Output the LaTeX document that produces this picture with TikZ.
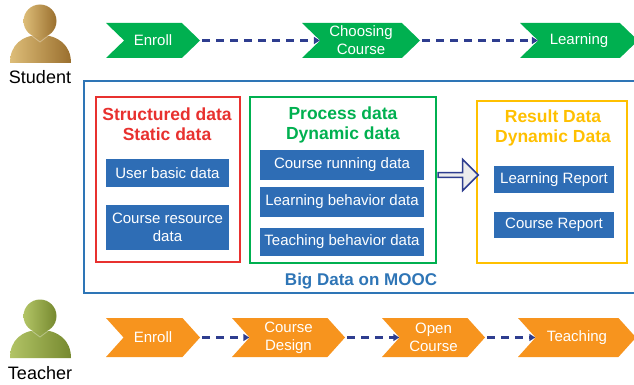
\documentclass[tikz,border=0pt]{standalone}
\usepackage{fontspec}
\setmainfont{Liberation Sans}
\usetikzlibrary{shapes.symbols,shapes.arrows,arrows.meta}

\definecolor{stugreen}{HTML}{00B050}
\definecolor{teaorange}{HTML}{F7941E}
\definecolor{itemblue}{HTML}{2E6DB5}
\definecolor{frameblue}{HTML}{2E75B6}
\definecolor{dashnavy}{HTML}{2E3D8F}
\definecolor{redline}{HTML}{E8312F}
\definecolor{goldline}{HTML}{FFC000}
\definecolor{goldlight}{HTML}{DDBD78}
\definecolor{golddark}{HTML}{9A6F2E}
\definecolor{olivelight}{HTML}{B2C466}
\definecolor{olivedark}{HTML}{76892F}

\tikzset{
  stagearrow/.style={signal, signal from=west, signal to=east, inner sep=0pt,
    text=white, align=center, font=\fontsize{15}{18}\selectfont},
  stu/.style={stagearrow, fill=stugreen, minimum height=35pt, signal pointer angle=88},
  tea/.style={stagearrow, fill=teaorange, minimum height=39pt, signal pointer angle=96},
  flow/.style={dashnavy, line width=2.4pt, dash pattern=on 8pt off 6pt,
    shorten <=2pt, -{Triangle[length=6pt,width=7pt]}},
  group/.style={draw, line width=2pt, fill=white},
  grouptitle/.style={align=center, font=\bfseries\fontsize{17.5}{20}\selectfont},
  item/.style={fill=itemblue, text=white, align=center, inner sep=0pt,
    font=\fontsize{15}{18}\selectfont},
  role/.style={font=\fontsize{18}{20}\selectfont},
}

% person icon: #1 = top of head, #2 light colour, #3 dark colour
\newcommand{\drawperson}[3]{
  \begin{scope}[shift={(0,#1)}]
    \shade[left color=#2, right color=#3]
      (10,58) .. controls (10,40) and (22,30) .. (40,30)
      .. controls (58,30) and (71,40) .. (71,58) -- cycle;
    \draw[white, opacity=0.35, line width=0.8pt] (32,31) -- (40,37) -- (48,31);
    \shade[left color=#2, right color=#3] (40,16) circle (16.5);
  \end{scope}
}

\begin{document}
\begin{tikzpicture}[x=1pt,y=-1pt]
  \useasboundingbox (0,0) rectangle (634,385);

  % student and teacher
  \drawperson{5}{goldlight}{golddark}
  \node[role] (student) at (40,77) {Student};
  \drawperson{300}{olivelight}{olivedark}
  \node[role] (teacher) at (40,373) {Teacher};

  % student steps
  \node[stu, minimum width=94pt] (s1) at (153,40.5) {Enroll};
  \node[stu, minimum width=118pt] (s2) at (361,40.5) {Choosing\\Course};
  \node[stu, minimum width=118pt] (s3) at (579,40.5) {Learning};
  \draw[flow] (s1.east) to (s2.west);
  \draw[flow] (s2.east) to (s3.west);

  % teacher steps
  \node[tea, minimum width=94pt] (t1) at (153,337.5) {Enroll};
  \node[tea, minimum width=113pt] (t2) at (288.5,337.5) {Course\\Design};
  \node[tea, minimum width=103pt] (t3) at (433.5,337.5) {Open\\Course};
  \node[tea, minimum width=118pt] (t4) at (577,337.5) {Teaching};
  \draw[flow] (t1.east) to (t2.west);
  \draw[flow] (t2.east) to (t3.west);
  \draw[flow] (t3.east) to (t4.west);

  % big data frame, open to the right
  \draw[frameblue, line width=2pt] (640,81) -- (84,81) -- (84,293) -- (640,293);
  \node[grouptitle, text=frameblue, font=\bfseries\fontsize{17}{20}\selectfont]
    (bigdata) at (361,281) {Big Data on MOOC};

  % structured data
  \node[group, draw=redline, minimum width=144pt, minimum height=165pt] (stat) at (168,179.5) {};
  \node[grouptitle, text=redline] (stattitle) at (167,124) {Structured data\\Static data};
  \node[item, minimum width=123pt, minimum height=28pt] (ub) at (167.5,173) {User basic data};
  \node[item, minimum width=123pt, minimum height=45pt] (cr) at (167.5,227.5) {Course resource\\data};

  % process data
  \node[group, draw=stugreen, minimum width=186pt, minimum height=166pt] (proc) at (343,180) {};
  \node[grouptitle, text=stugreen] (proctitle) at (343,124.5) {Process data\\Dynamic data};
  \node[item, minimum width=164pt, minimum height=30pt] (crun) at (342,165) {Course running data};
  \node[item, minimum width=164pt, minimum height=30pt] (lb) at (342,202) {Learning behavior data};
  \node[item, minimum width=164pt, minimum height=28pt] (tb) at (342,242) {Teaching behavior data};

  % result data
  \node[group, draw=goldline, minimum width=150pt, minimum height=162pt] (res) at (552,182) {};
  \node[grouptitle, text=goldline] (restitle) at (553,127.5) {Result Data\\Dynamic Data};
  \node[item, minimum width=120pt, minimum height=27pt] (lr) at (554,179.5) {Learning Report};
  \node[item, minimum width=120pt, minimum height=26pt] (crep) at (554,225) {Course Report};

  % process -> result
  \node[single arrow, draw=dashnavy, fill=gray!15, line width=1.5pt, inner sep=0pt,
    minimum height=40pt, minimum width=31pt, single arrow head extend=4pt] (toresult) at (457,175) {};
\end{tikzpicture}
\end{document}
